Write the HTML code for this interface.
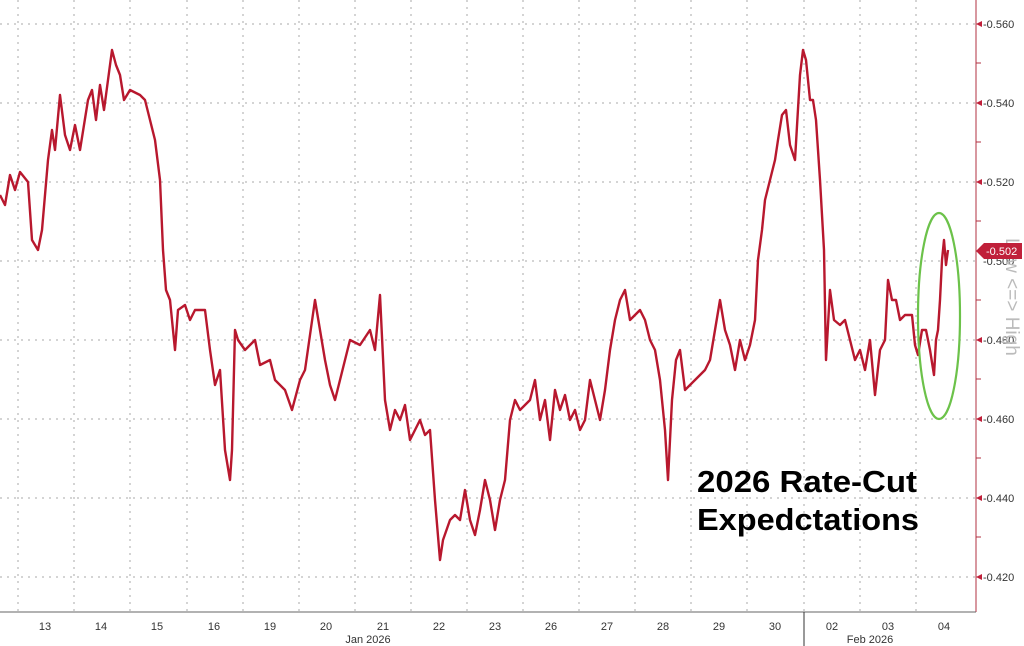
<!DOCTYPE html>
<html><head><meta charset="utf-8"><style>
body{margin:0;background:#fff;}
svg{display:block;font-family:"Liberation Sans",sans-serif;}
</style></head><body>
<svg width="1024" height="646" viewBox="0 0 1024 646" xmlns="http://www.w3.org/2000/svg">
<rect width="1024" height="646" fill="#fff"/>
<g stroke="#aaa" stroke-width="1" stroke-dasharray="2,5">
<line x1="0" y1="24" x2="976" y2="24"/><line x1="0" y1="103" x2="976" y2="103"/>
<line x1="0" y1="182" x2="976" y2="182"/><line x1="0" y1="261" x2="976" y2="261"/>
<line x1="0" y1="340" x2="976" y2="340"/><line x1="0" y1="419" x2="976" y2="419"/>
<line x1="0" y1="498" x2="976" y2="498"/><line x1="0" y1="577" x2="976" y2="577"/>
<line x1="18" y1="0" x2="18" y2="612"/><line x1="74" y1="0" x2="74" y2="612"/>
<line x1="130" y1="0" x2="130" y2="612"/><line x1="187" y1="0" x2="187" y2="612"/>
<line x1="243" y1="0" x2="243" y2="612"/><line x1="299" y1="0" x2="299" y2="612"/>
<line x1="355" y1="0" x2="355" y2="612"/><line x1="411" y1="0" x2="411" y2="612"/>
<line x1="467" y1="0" x2="467" y2="612"/><line x1="523" y1="0" x2="523" y2="612"/>
<line x1="579" y1="0" x2="579" y2="612"/><line x1="635" y1="0" x2="635" y2="612"/>
<line x1="691" y1="0" x2="691" y2="612"/><line x1="747" y1="0" x2="747" y2="612"/>
<line x1="804" y1="0" x2="804" y2="612"/><line x1="860" y1="0" x2="860" y2="612"/>
<line x1="916" y1="0" x2="916" y2="612"/>
</g>
<line x1="976" y1="0" x2="976" y2="612" stroke="#b03040" stroke-width="1"/>
<line x1="0" y1="612" x2="976" y2="612" stroke="#666" stroke-width="1"/>
<line x1="804" y1="612" x2="804" y2="646" stroke="#333" stroke-width="1"/>
<g fill="#c0203a">
<polygon points="976,24 982,21 982,27"/><polygon points="976,103 982,100 982,106"/>
<polygon points="976,182 982,179 982,185"/><polygon points="976,340 982,337 982,343"/>
<polygon points="976,419 982,416 982,422"/><polygon points="976,498 982,495 982,501"/>
<polygon points="976,577 982,574 982,580"/>
</g>
<g stroke="#b03040" stroke-width="1">
<line x1="976" y1="63" x2="981" y2="63"/><line x1="976" y1="142" x2="981" y2="142"/>
<line x1="976" y1="221" x2="981" y2="221"/><line x1="976" y1="300" x2="981" y2="300"/>
<line x1="976" y1="379" x2="981" y2="379"/><line x1="976" y1="458" x2="981" y2="458"/>
<line x1="976" y1="537" x2="981" y2="537"/>
</g>
<g font-size="11" fill="#333">
<text x="983" y="28">-0.560</text><text x="983" y="107">-0.540</text>
<text x="983" y="186">-0.520</text><text x="983" y="265">-0.500</text>
<text x="983" y="344">-0.480</text><text x="983" y="423">-0.460</text>
<text x="983" y="502">-0.440</text><text x="983" y="581">-0.420</text>
</g>
<text transform="translate(1006,238) rotate(90)" font-size="19" fill="#bbb">Low &lt;=&gt; High</text>
<polygon points="976,251 984,243 1022,243 1022,259 984,259" fill="#c0203a"/>
<text x="986" y="255" font-size="11" fill="#fff">-0.502</text>
<g font-size="11" fill="#333" text-anchor="middle">
<text x="45" y="630">13</text><text x="101" y="630">14</text><text x="157" y="630">15</text>
<text x="214" y="630">16</text><text x="270" y="630">19</text><text x="326" y="630">20</text>
<text x="383" y="630">21</text><text x="439" y="630">22</text><text x="495" y="630">23</text>
<text x="551" y="630">26</text><text x="607" y="630">27</text><text x="663" y="630">28</text>
<text x="719" y="630">29</text><text x="775" y="630">30</text><text x="832" y="630">02</text>
<text x="888" y="630">03</text><text x="944" y="630">04</text>
<text x="368" y="643">Jan 2026</text><text x="870" y="643">Feb 2026</text>
</g>
<polyline fill="none" stroke="#b8182e" stroke-width="2.4" stroke-linejoin="round" points="0,195 5,205 10,175 15,190 20,172 28,182 32,240 38,250 42,230 48,160 52,130 55,150 60,95 65,135 70,150 75,125 80,150 88,100 92,90 96,120 100,85 104,110 108,80 112,50 116,65 120,75 124,100 130,90 140,95 145,100 150,120 155,140 160,180 163,250 166,290 170,300 175,350 178,310 185,305 190,320 195,310 205,310 210,350 215,385 220,370 225,450 230,480 232,450 235,330 238,340 245,350 255,340 260,365 270,360 275,380 285,390 292,410 300,380 305,370 315,300 320,330 325,360 330,385 335,400 340,380 345,360 350,340 360,345 370,330 375,350 380,295 385,400 390,430 395,410 400,420 405,405 410,440 415,430 420,420 425,435 430,430 435,500 440,560 443,540 450,520 455,515 460,520 465,490 470,520 475,535 480,510 485,480 490,500 495,530 500,500 505,480 510,420 515,400 520,410 530,400 535,380 540,420 545,400 550,440 555,390 560,410 565,395 570,420 575,410 580,430 585,420 590,380 595,400 600,420 605,390 610,350 615,320 620,300 625,290 630,320 640,310 645,320 650,340 655,350 660,380 665,430 668,480 672,400 676,360 680,350 685,390 695,380 705,370 710,360 715,330 720,300 725,330 730,345 735,370 740,340 745,360 750,345 755,320 758,260 762,230 765,200 770,180 775,160 778,140 782,115 786,110 790,145 795,160 800,75 803,50 806,60 810,100 813,100 816,120 820,180 824,250 826,360 830,290 834,320 840,325 845,320 850,340 855,360 860,350 865,370 870,340 875,395 880,350 885,340 888,280 892,300 896,300 900,320 905,315 912,315 915,345 918,355 922,330 926,330 930,350 934,375 936,340 938,330 940,300 942,260 944,240 946,265 948,250"/>
<ellipse cx="939" cy="316" rx="21" ry="103" fill="none" stroke="#6cc24a" stroke-width="2.2"/>
<g font-size="31" font-weight="bold" fill="#000">
<text x="697" y="492" textLength="220" lengthAdjust="spacingAndGlyphs">2026 Rate-Cut</text>
<text x="697" y="530" textLength="222" lengthAdjust="spacingAndGlyphs">Expedctations</text>
</g>
</svg>
</body></html>
